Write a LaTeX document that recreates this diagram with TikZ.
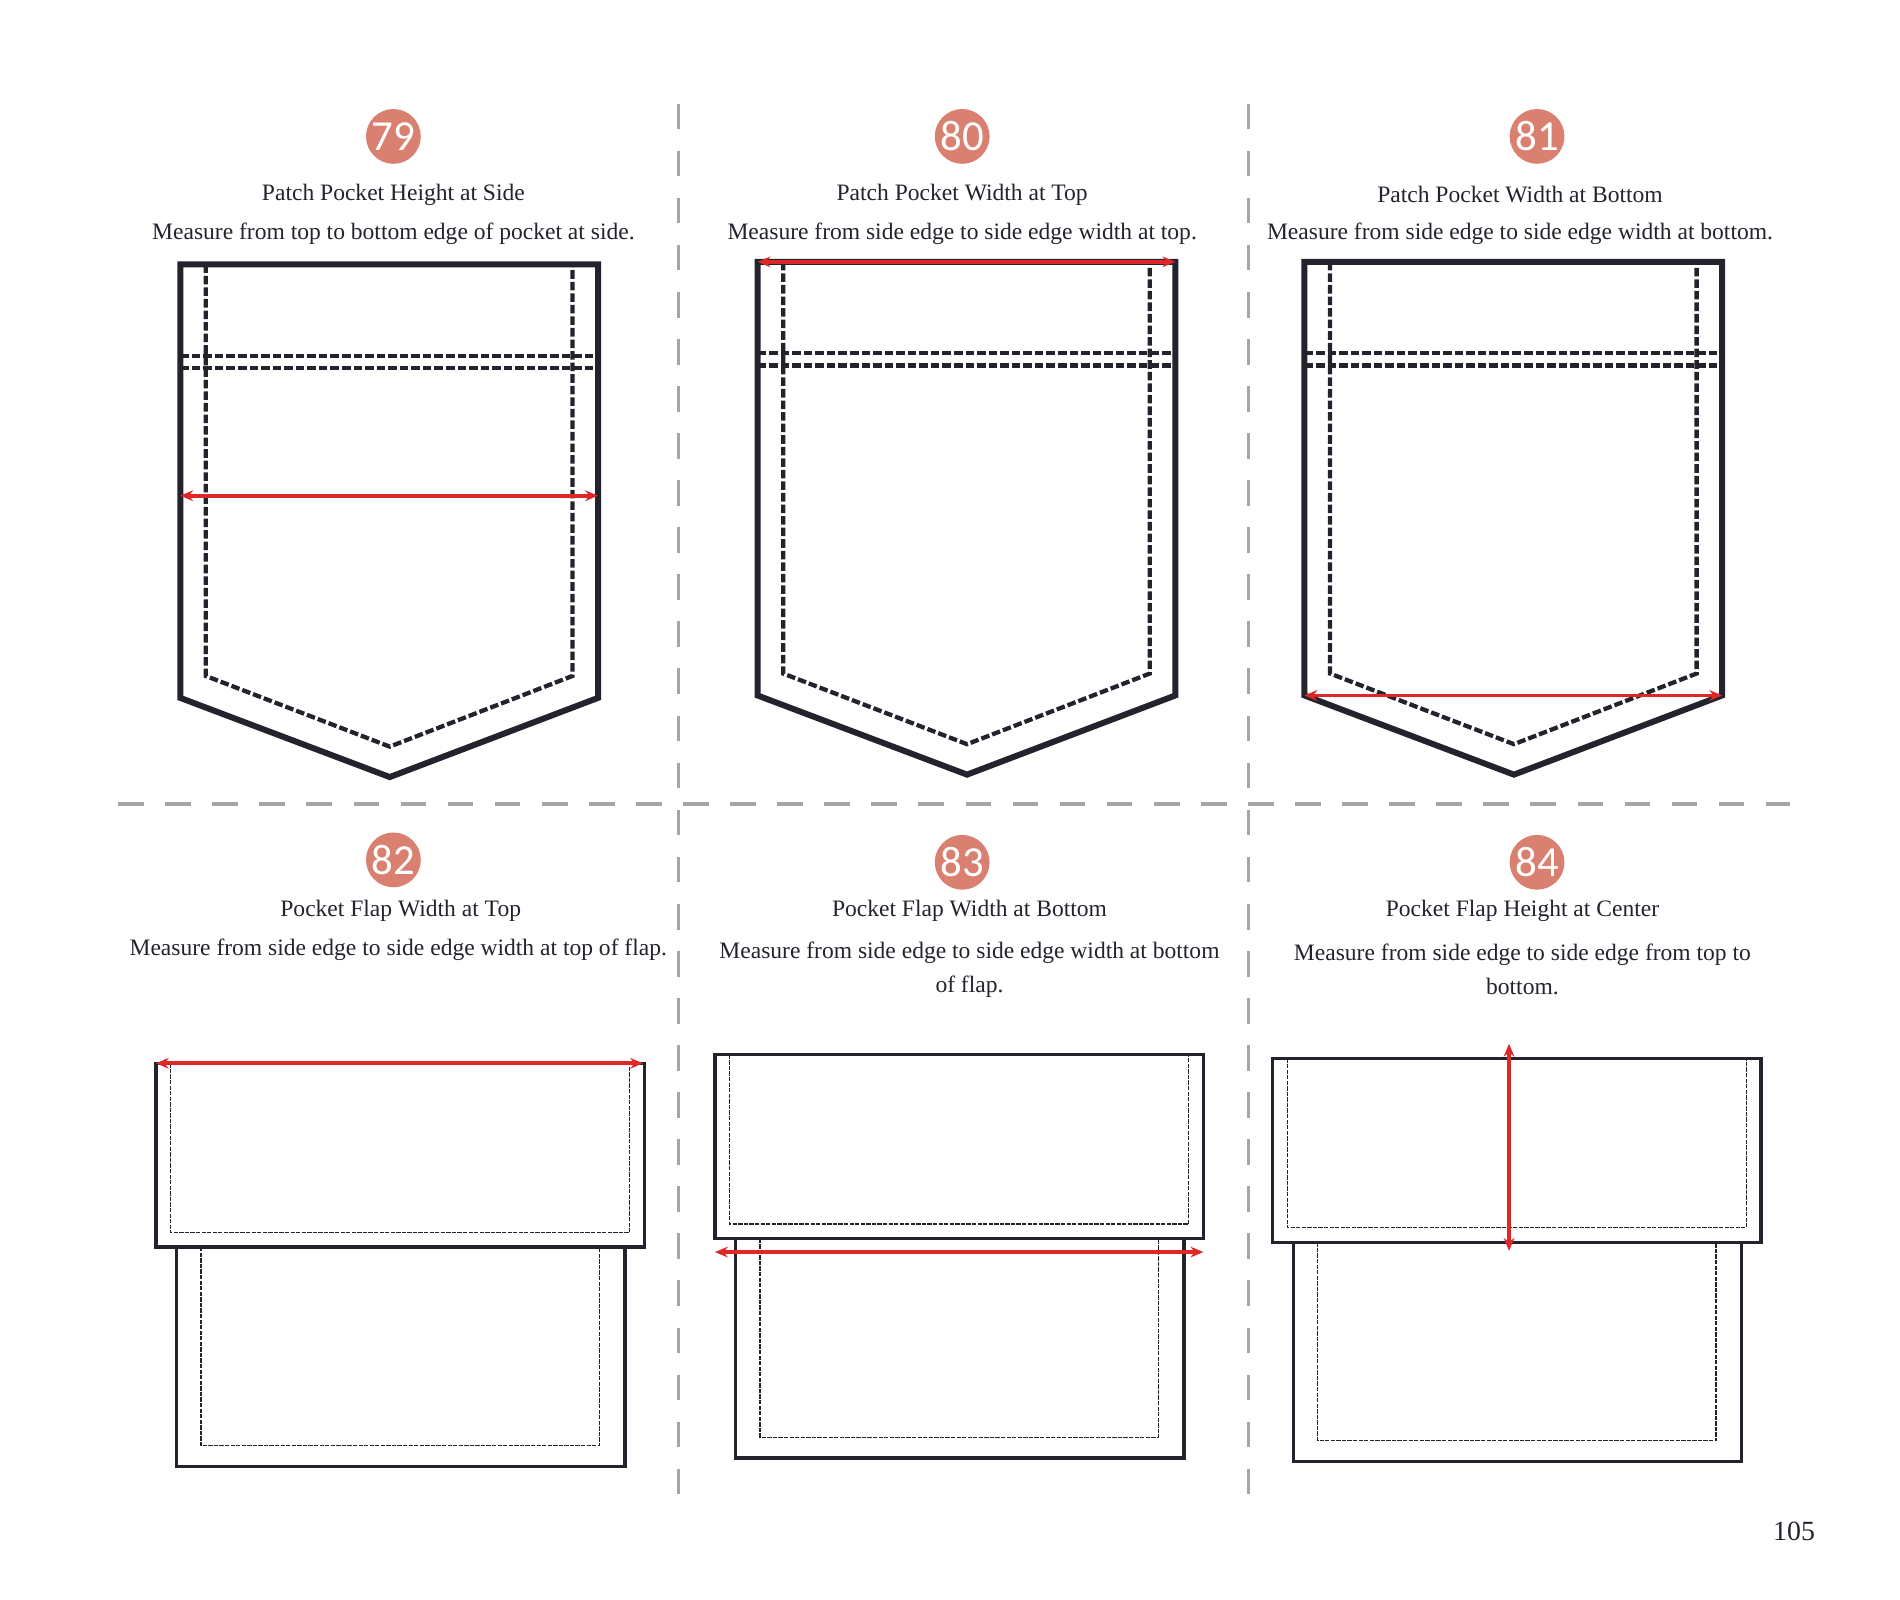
\documentclass[tikz,border=0pt]{standalone}
\usepackage{fontspec}
\setmainfont{Liberation Serif}
\newfontfamily\numfont{Carlito}
\usetikzlibrary{arrows.meta}
\definecolor{badge}{RGB}{217,128,112}
\definecolor{ink}{RGB}{35,35,45}
\definecolor{measred}{RGB}{222,40,40}
\definecolor{divgray}{RGB}{165,165,165}
\tikzset{
  divider/.style={divgray,line width=1.7pt,dash pattern=on 12pt off 10pt},
  badgenode/.style={circle,fill=badge,text=white,minimum size=0.9cm,inner sep=0pt,font=\numfont\fontsize{20}{20}\selectfont},
  titletext/.style={font=\fontsize{11}{12}\selectfont,text=ink},
  outerline/.style={ink,line width=2.8pt,line join=miter},
  stitch/.style={ink,line width=2pt,dash pattern=on 4pt off 1.4pt},
  flapline/.style={ink,line width=1.6pt},
  flapstitch/.style={ink,line width=0.6pt,dash pattern=on 2pt off 0.6pt},
  meas/.style={measred,line width=1.8pt,{Stealth[length=6pt,width=5pt]}-{Stealth[length=6pt,width=5pt]}},
  pics/patchpocket/.style={code={
    \draw[outerline] (0,0)--(0,356)--(172,421)--(343,356)--(343,0)--cycle;
    \draw[stitch] (21,0)--(21,338)--(172,396)--(322,338)--(322,0);
    \draw[stitch] (0,75)--(343,75);
    \draw[stitch] (0,85)--(343,85);
  }},
  pics/flappocket/.style={code={
    \draw[flapline] (17,151) rectangle (385,331);
    \draw[flapstitch] (37,151)--(37,314)--(364,314)--(364,151);
    \draw[flapline,fill=white] (0,0) rectangle (401,151);
    \draw[flapstitch] (12,0)--(12,139)--(389,139)--(389,0);
  }}
}
\begin{document}
\begin{tikzpicture}[x=0.02cm,y=-0.02cm]
  \useasboundingbox (0,0) rectangle (1560,1313);

  % dividers
  \draw[divider] (557,85)--(557,1237);
  \draw[divider] (1025,85)--(1025,1237);
  \draw[divider] (97,660)--(1470,660);

  % top row
  \node[badgenode] (b79) at (323,112) {79};
  \node[titletext] (t79) at (323,160) {Patch Pocket Height at Side};
  \node[titletext] (d79) at (323,192) {Measure from top to bottom edge of pocket at side.};
  \pic at (148,217) {patchpocket};
  \coordinate (m79a) at (148,407); \coordinate (m79b) at (491,407);
  \draw[meas] (m79a)--(m79b);

  \node[badgenode] (b80) at (790,112) {80};
  \node[titletext] (t80) at (790,160) {Patch Pocket Width at Top};
  \node[titletext] (d80) at (790,192) {Measure from side edge to side edge width at top.};
  \pic at (622,215) {patchpocket};
  \coordinate (m80a) at (622,215); \coordinate (m80b) at (965,215);
  \draw[meas] (m80a)--(m80b);

  \node[badgenode] (b81) at (1262,112) {81};
  \node[titletext] (t81) at (1248,160) {Patch Pocket Width at Bottom};
  \node[titletext] (d81) at (1248,192) {Measure from side edge to side edge width at bottom.};
  \pic at (1071,215) {patchpocket};
  \coordinate (m81a) at (1071,571); \coordinate (m81b) at (1414,571);
  \draw[meas] (m81a)--(m81b);

  % bottom row
  \node[badgenode] (b82) at (323,706) {82};
  \node[titletext] (t82) at (329,748) {Pocket Flap Width at Top};
  \node[titletext] (d82) at (327,780) {Measure from side edge to side edge width at top of flap.};
  \pic at (128,873) {flappocket};
  \coordinate (m82a) at (128,873); \coordinate (m82b) at (528,873);
  \draw[meas] (m82a)--(m82b);

  \node[badgenode] (b83) at (790,708) {83};
  \node[titletext] (t83) at (796,748) {Pocket Flap Width at Bottom};
  \node[titletext,align=center] (d83) at (796,796) {Measure from side edge to side edge width at bottom\\[4pt]of flap.};
  \pic at (587,866) {flappocket};
  \coordinate (m83a) at (587,1028); \coordinate (m83b) at (988,1028);
  \draw[meas] (m83a)--(m83b);

  \node[badgenode] (b84) at (1262,708) {84};
  \node[titletext] (t84) at (1250,748) {Pocket Flap Height at Center};
  \node[titletext,align=center] (d84) at (1250,796) {Measure from side edge to side edge from top to\\[4pt]bottom.};
  \pic at (1045,869) {flappocket};
  \coordinate (m84a) at (1239,857); \coordinate (m84b) at (1239,1027);
  \draw[meas] (m84a)--(m84b);

  \node[font=\fontsize{13}{14}\selectfont,text=ink] (pg) at (1473,1257) {105};
\end{tikzpicture}
\end{document}
